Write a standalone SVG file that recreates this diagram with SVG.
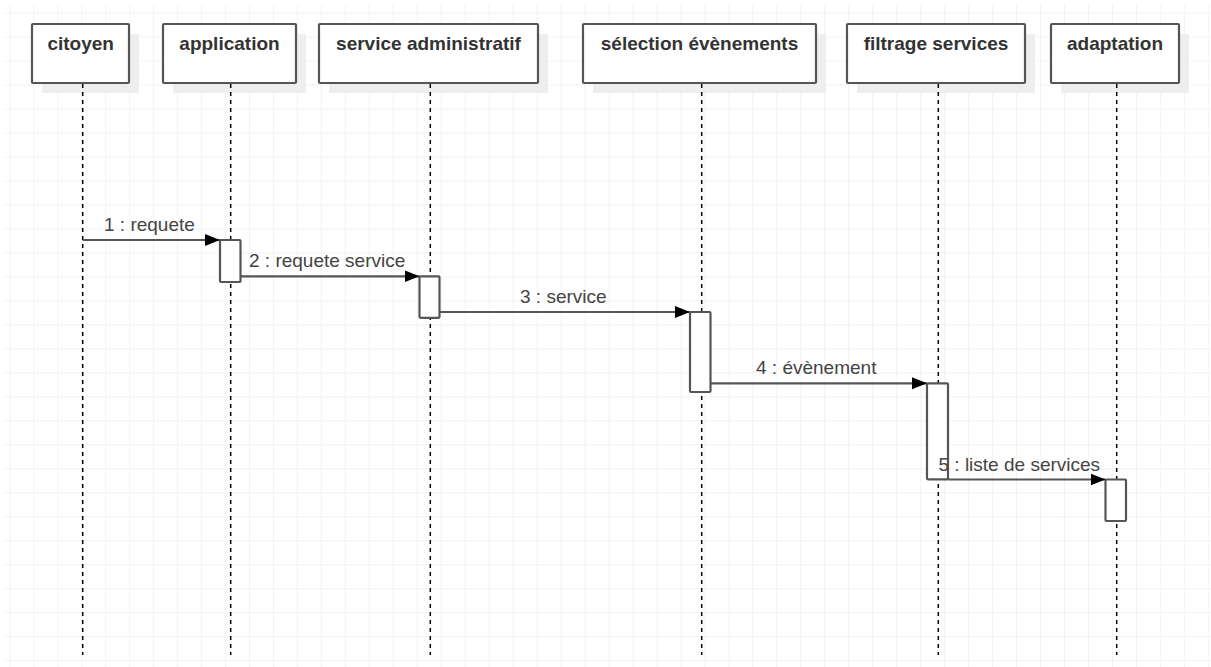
<svg xmlns="http://www.w3.org/2000/svg" width="1211" height="667" viewBox="0 0 1211 667">
<style>
.box{fill:#fff;stroke:#555;stroke-width:2.2}
.shadow{fill:#eee;stroke:none}
.title{font-family:"Liberation Sans",Arial,sans-serif;font-size:19px;font-weight:bold;fill:#333;text-anchor:middle}
.life{stroke:#000;stroke-width:1.5;stroke-dasharray:4 4;fill:none}
.act{fill:#fff;stroke:#555;stroke-width:2.2}
.msg{stroke:#555;stroke-width:2.2;fill:none}
.lbl{font-family:"Liberation Sans",Arial,sans-serif;font-size:19px;fill:#444}
</style>
<defs>
<pattern id="grid" patternUnits="userSpaceOnUse" x="9.3" y="12.7" width="23.97" height="23.98">
<path d="M0 0V23.98M0 0H23.97" stroke="#f0f0f0" stroke-width="1.5" fill="none"/>
</pattern>
<marker id="arr" markerWidth="16" markerHeight="14" refX="15" refY="7" orient="auto" markerUnits="userSpaceOnUse">
<path d="M0 1L15 7L0 13Z" fill="#000"/>
</marker>
</defs>
<rect width="1211" height="667" fill="#fff"/>
<rect x="4" y="4" width="1207" height="663" fill="url(#grid)"/>

<g id="citoyen">
<rect class="shadow" x="42" y="34" width="97" height="59"/>
<rect class="box" x="32" y="24" width="97" height="59" rx="1"/>
<line class="life" x1="82.7" y1="84" x2="82.7" y2="655"/>
<text class="title" x="80.7" y="50">citoyen</text>
</g>
<g id="application">
<rect class="shadow" x="173" y="34" width="133" height="59"/>
<rect class="box" x="163" y="24" width="133" height="59" rx="1"/>
<line class="life" x1="230.7" y1="84" x2="230.7" y2="655"/>
<text class="title" x="229.5" y="50">application</text>
</g>
<g id="service_administratif">
<rect class="shadow" x="329" y="34" width="219" height="59"/>
<rect class="box" x="319" y="24" width="219" height="59" rx="1"/>
<line class="life" x1="430.3" y1="84" x2="430.3" y2="655"/>
<text class="title" x="428.5" y="50">service administratif</text>
</g>
<g id="selection_evenements">
<rect class="shadow" x="593" y="34" width="233" height="59"/>
<rect class="box" x="583" y="24" width="233" height="59" rx="1"/>
<line class="life" x1="701.7" y1="84" x2="701.7" y2="655"/>
<text class="title" x="699.5" y="50">sélection évènements</text>
</g>
<g id="filtrage_services">
<rect class="shadow" x="857" y="34" width="178" height="59"/>
<rect class="box" x="847" y="24" width="178" height="59" rx="1"/>
<line class="life" x1="938.3" y1="84" x2="938.3" y2="655"/>
<text class="title" x="936" y="50">filtrage services</text>
</g>
<g id="adaptation">
<rect class="shadow" x="1061" y="34" width="128" height="59"/>
<rect class="box" x="1051" y="24" width="128" height="59" rx="1"/>
<line class="life" x1="1116.7" y1="84" x2="1116.7" y2="655"/>
<text class="title" x="1115" y="50">adaptation</text>
</g>

<g id="activations">
<rect class="act" x="220" y="240" width="20.5" height="42" rx="1"/>
<rect class="act" x="419.5" y="276.3" width="20" height="41.5" rx="1"/>
<rect class="act" x="690" y="312" width="20.5" height="80" rx="1"/>
<rect class="act" x="927" y="383.3" width="21" height="96" rx="1"/>
<rect class="act" x="1105.5" y="479.5" width="20.5" height="41.5" rx="1"/>
</g>

<g id="connectors">
<line class="msg" x1="82.7" y1="240" x2="220" y2="240" marker-end="url(#arr)"/>
<text class="lbl" x="104" y="231">1 : requete</text>
<line class="msg" x1="240.5" y1="276.3" x2="419.5" y2="276.3" marker-end="url(#arr)"/>
<text class="lbl" x="249" y="267">2 : requete service</text>
<line class="msg" x1="439.5" y1="312" x2="690" y2="312" marker-end="url(#arr)"/>
<text class="lbl" x="520" y="302.5">3 : service</text>
<line class="msg" x1="710.5" y1="383.3" x2="927" y2="383.3" marker-end="url(#arr)"/>
<text class="lbl" x="756" y="374">4 : évènement</text>
<line class="msg" x1="948" y1="479.5" x2="1105.5" y2="479.5" marker-end="url(#arr)"/>
<text class="lbl" x="938.5" y="471">5 : liste de services</text>
</g>
</svg>
